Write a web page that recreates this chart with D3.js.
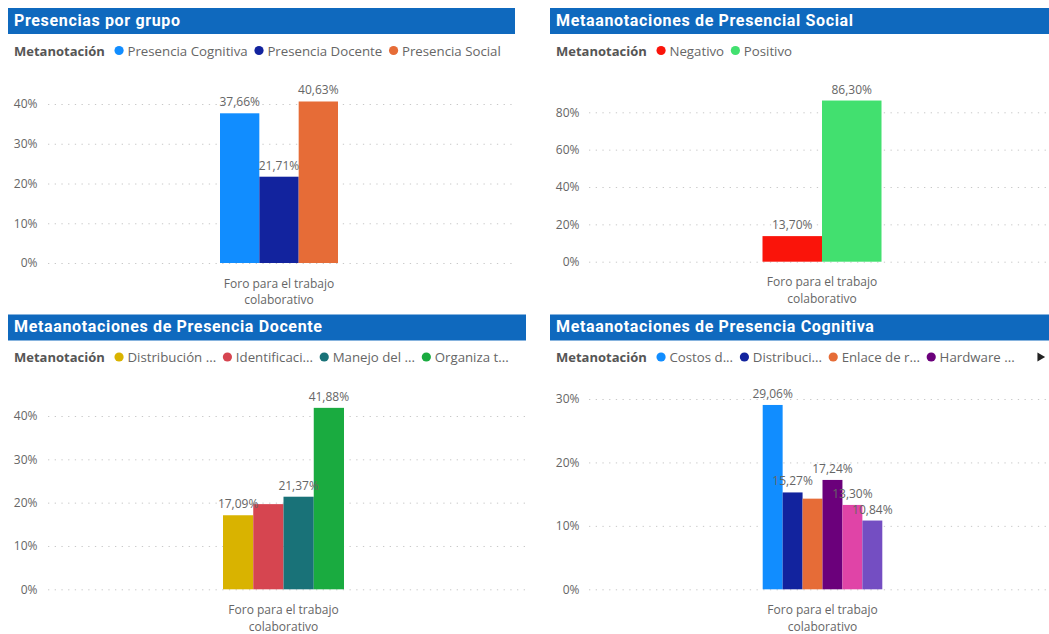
<!DOCTYPE html>
<html>
<head>
<meta charset="utf-8">
<script src="https://cdn.jsdelivr.net/npm/d3@7"></script>
<style>
    html, body { margin: 0; padding: 0; background: #fff; }
    svg { display: block; }
    text { font-family: "Open Sans", "Segoe UI", sans-serif; }
</style>
</head>
<body>
<svg id="chart" width="1049" height="634"></svg>
<script>

// Data

const categories = ['Foro para el trabajo colaborativo'];

const grupoSeries = ['Presencia Cognitiva', 'Presencia Docente', 'Presencia Social'];
const grupoValues = [0.3766, 0.2171, 0.4063];
const grupoColors = ['#118DFF', '#12239E', '#E66C37'];
const grupoTicks = [0, 0.1, 0.2, 0.3, 0.4];

const socialSeries = ['Negativo', 'Positivo'];
const socialValues = [0.1370, 0.8630];
const socialColors = ['#FA140A', '#42E06F'];
const socialTicks = [0, 0.2, 0.4, 0.6, 0.8];

const docenteSeries = ['Distribución ...', 'Identificaci...', 'Manejo del ...', 'Organiza t...'];
const docenteValues = [0.1709, 0.1966, 0.2137, 0.4188];
const docenteColors = ['#D9B300', '#D64550', '#197278', '#1AAB40'];
const docenteTicks = [0, 0.1, 0.2, 0.3, 0.4];
const docenteLabelShown = [true, false, true, true];

// only the first four fit in the legend, the rest sits behind the arrow
const cognitivaSeries = ['Costos d...', 'Distribuci...', 'Enlace de r...', 'Hardware ...'];
const cognitivaValues = [0.2906, 0.1527, 0.1429, 0.1724, 0.1330, 0.1084];
const cognitivaColors = ['#118DFF', '#12239E', '#E66C37', '#6B007B', '#E044A7', '#744EC2'];
const cognitivaTicks = [0, 0.1, 0.2, 0.3];
const cognitivaLabelShown = [true, true, false, true, true, true];

const legendTitle = 'Metanotación';


// Formats (Spanish decimal comma)

const locale = d3.formatLocale({ decimal: ',', thousands: '.', grouping: [3], currency: ['', ' €'] });
const fmtLabel = locale.format('.2%');
const fmtTick = locale.format('.0%');

const svg = d3.select('#chart');

function wrapLines(textSel, words, width) {
    const lines = [];
    let line = [];
    const probe = textSel.append('tspan');
    words.forEach(w => {
        const test = line.concat(w).join(' ');
        probe.text(test);
        if (probe.node().getComputedTextLength() > width && line.length) {
            lines.push(line.join(' '));
            line = [w];
        } else {
            line.push(w);
        }
    });
    if (line.length) lines.push(line.join(' '));
    probe.remove();
    return lines;
}

function drawPanel(p) {
    const g = svg.append('g');

    // Title bar
    g.append('rect')
        .attr('x', p.left).attr('y', p.top)
        .attr('width', p.right - p.left).attr('height', 26)
        .attr('fill', '#0F69BE');

    g.append('text')
        .attr('x', p.left + 6).attr('y', p.top + 17.5)
        .attr('fill', '#fff')
        .style('font-family', 'Roboto, sans-serif')
        .style('font-weight', 700)
        .style('font-size', '16px')
        .style('letter-spacing', '0.65px')
        .text(p.title);

    // Legend
    const legendY = p.top + 42.5;
    const lg = g.append('g');
    const lt = lg.append('text')
        .attr('x', p.left + 6).attr('y', legendY + 5)
        .attr('fill', '#555')
        .style('font-size', '13px')
        .style('font-weight', 700)
        .text(legendTitle);
    let cursor = p.left + 6 + lt.node().getComputedTextLength() + 9.8;

    p.series.forEach((name, i) => {
        lg.append('circle')
            .attr('cx', cursor + 4.5).attr('cy', legendY)
            .attr('r', 4.6)
            .attr('fill', p.colors[i]);
        const t = lg.append('text')
            .attr('x', cursor + 12.9).attr('y', legendY + 5)
            .attr('fill', '#666')
            .style('font-size', '13.25px')
            .text(name);
        cursor += 12.9 + t.node().getComputedTextLength() + 6.8;
    });

    if (p.values.length > p.series.length) {
        lg.append('path')
            .attr('d', d3.symbol(d3.symbolTriangle, 34)())
            .attr('transform', `translate(${p.right - 9},${legendY}) rotate(90)`)
            .attr('fill', '#222');
    }

    // Scales
    const y = d3.scaleLinear()
        .domain([0, p.ticks[p.ticks.length - 1]])
        .range([p.zero, p.topPx]);

    const span = p.bandRight - p.plotLeft;
    const x0 = d3.scaleBand()
        .domain(categories)
        .range([p.plotLeft, p.bandRight])
        .paddingInner(0)
        .paddingOuter((span / p.groupWidth - 1) / 2);

    const x1 = d3.scaleBand()
        .domain(d3.range(p.values.length))
        .range([0, x0.bandwidth()])
        .padding(0);

    // Grid
    const grid = g.append('g')
        .attr('transform', `translate(${p.plotLeft},0)`)
        .call(d3.axisLeft(y).tickValues(p.ticks).tickSize(-(p.right - p.plotLeft)).tickFormat(''));
    grid.select('.domain').remove();
    grid.selectAll('line')
        .attr('stroke', '#C8C8C8')
        .attr('stroke-width', 1)
        .attr('stroke-dasharray', '1.3,5.4');

    // Y axis labels
    const yAxis = g.append('g')
        .attr('transform', `translate(${p.plotLeft},0)`)
        .call(d3.axisLeft(y).tickValues(p.ticks).tickSize(0).tickPadding(p.plotLeft - p.tickRight).tickFormat(fmtTick));
    yAxis.select('.domain').remove();
    yAxis.selectAll('text')
        .attr('fill', '#666')
        .style('font-size', '12px')
        .style('font-family', '"Open Sans", sans-serif');

    // Bars
    const cat = categories[0];
    const bars = g.append('g').attr('transform', `translate(${x0(cat)},0)`);

    bars.selectAll('rect')
        .data(p.values)
        .join('rect')
        .attr('x', (d, i) => x1(i))
        .attr('y', d => y(d))
        .attr('width', x1.bandwidth())
        .attr('height', d => y(0) - y(d))
        .attr('fill', (d, i) => p.colors[i]);

    bars.selectAll('text')
        .data(p.values.map((v, i) => ({ v, i })).filter(d => !p.labelShown || p.labelShown[d.i]))
        .join('text')
        .attr('x', d => x1(d.i) + x1.bandwidth() / 2)
        .attr('y', d => y(d.v) - 7)
        .attr('text-anchor', 'middle')
        .attr('fill', '#666')
        .style('font-size', '12px')
        .text(d => fmtLabel(d.v));

    // Category label
    const catText = g.append('text')
        .attr('text-anchor', 'middle')
        .attr('fill', '#666')
        .style('font-size', '12px');
    const lines = wrapLines(catText, cat.split(' '), x0.bandwidth());
    catText.selectAll('tspan')
        .data(lines)
        .join('tspan')
        .attr('x', x0(cat) + x0.bandwidth() / 2)
        .attr('y', (d, i) => p.zero + 24.5 + i * 16.7)
        .text(d => d);
}

drawPanel({
    title: 'Presencias por grupo',
    left: 8, right: 515, top: 8,
    plotLeft: 48, bandRight: 510, tickRight: 37.5,
    zero: 263, topPx: 104, groupWidth: 118,
    series: grupoSeries, values: grupoValues, colors: grupoColors, ticks: grupoTicks
});

drawPanel({
    title: 'Metaanotaciones de Presencial Social',
    left: 550, right: 1049, top: 8,
    plotLeft: 589, bandRight: 1055, tickRight: 579.5,
    zero: 261.7, topPx: 112.3, groupWidth: 119,
    series: socialSeries, values: socialValues, colors: socialColors, ticks: socialTicks
});

drawPanel({
    title: 'Metaanotaciones de Presencia Docente',
    left: 8, right: 526, top: 314.5,
    plotLeft: 48, bandRight: 519, tickRight: 37.5,
    zero: 589.3, topPx: 416, groupWidth: 121,
    series: docenteSeries, values: docenteValues, colors: docenteColors, ticks: docenteTicks,
    labelShown: docenteLabelShown
});

drawPanel({
    title: 'Metaanotaciones de Presencia Cognitiva',
    left: 550, right: 1049, top: 314.5,
    plotLeft: 589, bandRight: 1056, tickRight: 579.5,
    zero: 589.3, topPx: 399, groupWidth: 119.6,
    series: cognitivaSeries, values: cognitivaValues, colors: cognitivaColors, ticks: cognitivaTicks,
    labelShown: cognitivaLabelShown
});

</script>
</body>
</html>
